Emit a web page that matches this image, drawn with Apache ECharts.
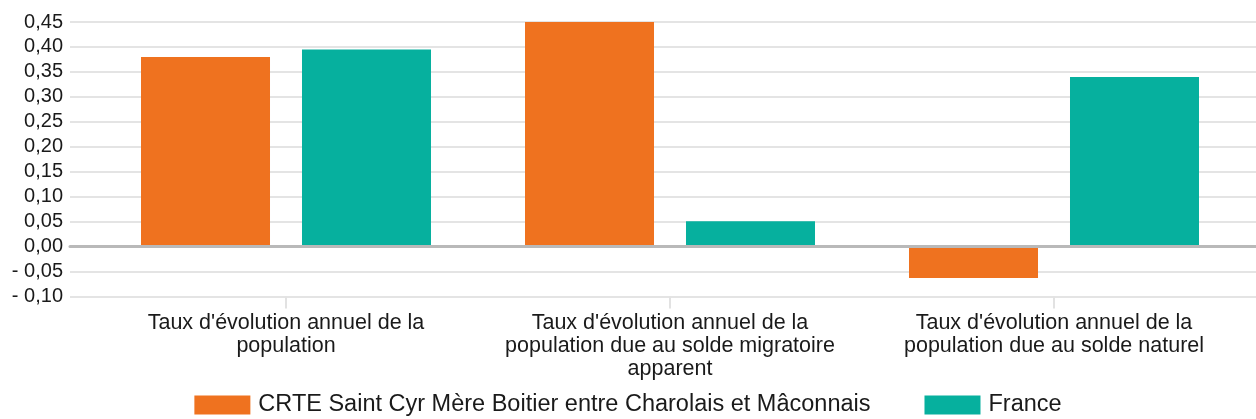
<!DOCTYPE html>
<html lang="fr">
<head>
    <meta charset="UTF-8">
    <title>Taux d'évolution annuel de la population</title>
    <script src="https://cdn.jsdelivr.net/npm/echarts@6/dist/echarts.min.js"></script>
    <style>
        html, body { margin: 0; padding: 0; background: #fff; }
    </style>
</head>
<body>
    <div id="main" style="width: 1256px; height: 419px;"></div>
    <script>
        // données
        var categories = [
            "Taux d'évolution annuel de la\npopulation",
            "Taux d'évolution annuel de la\npopulation due au solde migratoire\napparent",
            "Taux d'évolution annuel de la\npopulation due au solde naturel"
        ];
        var crteName = 'CRTE Saint Cyr Mère Boitier entre Charolais et Mâconnais';
        var crteValues = [0.38, 0.45, -0.063];
        var franceName = 'France';
        var franceValues = [0.395, 0.051, 0.34];

        var yMin = -0.10, yMax = 0.45, yStep = 0.05;

        function fmt(v) {
            var s = Math.abs(v).toFixed(2).replace('.', ',');
            return (v < -1e-9 ? '- ' : '') + s;
        }

        var myChart = echarts.init(document.getElementById('main'));

        var font = 'Liberation Sans, Arial, Helvetica, sans-serif';

        var option = {
            animation: false,
            textStyle: { fontFamily: font },
            grid: [
                // grille des barres
                { left: 94, right: 10, top: 22, bottom: 122.5 },
                // grille du fond (lignes + étiquettes)
                { left: 70, right: 0, top: 22, bottom: 122.5 }
            ],
            legend: {
                data: [crteName, franceName],
                left: 'center',
                bottom: -3,
                itemWidth: 56,
                itemHeight: 19,
                itemGap: 54,
                icon: 'rect',
                textStyle: {
                    fontSize: 23.5,
                    color: '#1a1a1a',
                    fontFamily: font,
                    padding: [0, 0, 0, 3]
                }
            },
            xAxis: [
                {
                    type: 'category',
                    gridIndex: 0,
                    data: categories,
                    axisLine: { show: false, onZero: false },
                    axisTick: {
                        show: true,
                        alignWithLabel: true,
                        length: 12,
                        lineStyle: { color: '#e2e2e2', width: 2 }
                    },
                    axisLabel: {
                        color: '#1a1a1a',
                        fontSize: 21.5,
                        lineHeight: 23,
                        margin: 15,
                        interval: 0
                    },
                    z: 1
                },
                {
                    type: 'category',
                    gridIndex: 1,
                    data: [''],
                    axisLine: {
                        show: true,
                        onZero: true,
                        lineStyle: { color: '#b9b9b9', width: 3 }
                    },
                    axisTick: { show: false },
                    axisLabel: { show: false },
                    z: 3
                }
            ],
            yAxis: [
                {
                    type: 'value',
                    gridIndex: 0,
                    min: yMin,
                    max: yMax,
                    interval: yStep,
                    axisLine: { show: false },
                    axisTick: { show: false },
                    axisLabel: { show: false },
                    splitLine: { show: false }
                },
                {
                    type: 'value',
                    gridIndex: 1,
                    min: yMin,
                    max: yMax,
                    interval: yStep,
                    axisLine: { show: false },
                    axisTick: { show: false },
                    axisLabel: {
                        color: '#1a1a1a',
                        fontSize: 20,
                        margin: 7,
                        formatter: fmt
                    },
                    splitLine: { lineStyle: { color: '#e4e4e4', width: 2 } }
                }
            ],
            series: [
                {
                    name: crteName,
                    type: 'bar',
                    xAxisIndex: 0,
                    yAxisIndex: 0,
                    data: crteValues,
                    barWidth: 129,
                    barGap: '24.8%',
                    itemStyle: { color: '#ef721f' },
                    z: 2
                },
                {
                    name: franceName,
                    type: 'bar',
                    xAxisIndex: 0,
                    yAxisIndex: 0,
                    data: franceValues,
                    barWidth: 129,
                    barGap: '24.8%',
                    itemStyle: { color: '#06b09e' },
                    z: 2
                }
            ]
        };

        myChart.setOption(option);
    </script>
</body>
</html>
